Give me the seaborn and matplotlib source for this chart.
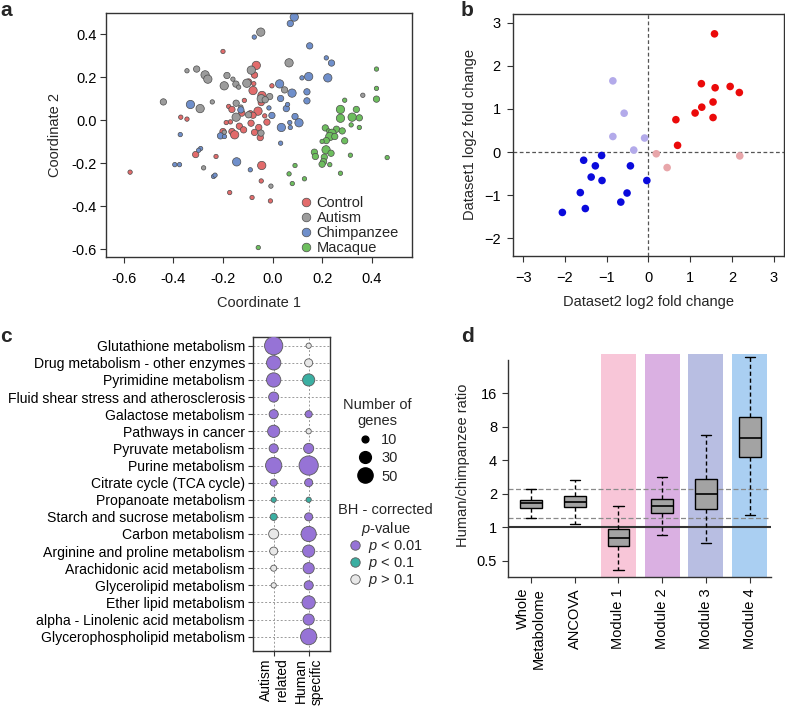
import numpy as np
import pandas as pd
import matplotlib
matplotlib.use('Agg')
import matplotlib.pyplot as plt
from matplotlib.lines import Line2D
from matplotlib.ticker import NullLocator, FormatStrFormatter
import seaborn as sns

# ---------------- Panel a data (MDS coordinates) ----------------
a_groups = ['Control', 'Autism', 'Chimpanzee', 'Macaque']
ctrl_x = [-0.20, -0.066, -0.073, -0.097, -0.079, -0.076, -0.043, -0.003, -0.046, -0.114, -0.177, -0.164, -0.124,
          -0.09, -0.059, -0.079, -0.032, -0.187, -0.17, -0.20, -0.164, -0.153, -0.134, -0.117, -0.087, -0.056,
          -0.023, -0.073, -0.05, -0.37, -0.345, -0.31, -0.228, -0.044, -0.173, -0.083, -0.009, -0.046, -0.574]
ctrl_y = [0.32, 0.255, 0.21, 0.178, 0.138, 0.17, 0.115, 0.16, 0.082, 0.092, 0.064, 0.05, 0.033,
          0.03, 0.042, 0.023, 0.02, -0.011, -0.008, -0.053, -0.053, -0.068, -0.028, -0.045, -0.014, -0.034,
          -0.009, -0.057, -0.081, 0.014, 0.005, -0.16, -0.169, -0.211, -0.337, -0.36, -0.376, -0.283, -0.242]
ctrl_w = [1, 3, 2, 2, 3, 1, 3, 1, 2, 1, 1, 2, 2, 2, 3, 2, 1, 1, 1, 2, 2, 3, 2, 2, 2, 2, 2, 2, 2, 1, 1, 2, 1, 3,
          1, 1, 1, 1, 1]
aut_x = [-0.048, 0.066, -0.345, -0.306, -0.272, -0.261, -0.184, -0.16, -0.195, -0.148, -0.137, -0.104, -0.086,
         -0.012, -0.046, -0.03, 0.048, -0.44, -0.292, -0.243, -0.147, -0.128, -0.147, -0.097, -0.047, -0.195,
         -0.278, -0.007, 0.363]
aut_y = [0.41, 0.267, 0.23, 0.238, 0.211, 0.191, 0.208, 0.191, 0.16, 0.168, 0.154, 0.172, 0.233,
         0.11, 0.10, 0.095, 0.141, 0.085, 0.054, 0.085, 0.079, 0.061, 0.014, 0.025, -0.06, -0.056,
         -0.222, -0.307, 0.116]
aut_w = [3, 3, 1, 2, 3, 3, 2, 1, 3, 2, 1, 3, 3, 2, 3, 2, 2, 2, 3, 1, 2, 1, 3, 2, 2, 1, 1, 1, 1]
chi_x = [0.087, 0.071, -0.074, 0.149, 0.216, 0.237, 0.118, 0.145, 0.222, 0.028, 0.078, 0.138, 0.138, 0.032,
         0.055, 0.06, -0.015, -0.003, -0.128, -0.331, 0.09, 0.106, 0.035, 0.069, 0.071, 0.032, -0.21, -0.194,
         -0.372, -0.29, -0.298, -0.394, -0.375, -0.145, -0.238, -0.232, -0.09]
chi_y = [0.48, 0.45, 0.387, 0.346, 0.29, 0.266, 0.197, 0.203, 0.197, 0.169, 0.126, 0.132, 0.09, 0.101,
         0.054, 0.073, 0.057, 0.022, 0.048, 0.073, 0.017, -0.012, -0.034, -0.011, -0.034, -0.107, -0.073, -0.076,
         -0.067, -0.132, -0.14, -0.207, -0.207, -0.194, -0.262, -0.256, -0.231]
chi_w = [3, 2, 1, 2, 1, 2, 1, 3, 3, 3, 3, 2, 2, 2, 2, 1, 1, 2, 2, 3, 2, 3, 3, 1, 1, 1, 2, 1, 1, 1, 1, 1, 1, 3,
         1, 1, 1]
mac_x = [0.418, 0.418, 0.418, 0.29, 0.273, 0.337, 0.273, 0.32, 0.349, 0.316, 0.349, 0.212, 0.225, 0.257, 0.239,
         0.23, 0.28, 0.25, 0.216, 0.199, 0.29, 0.215, 0.168, 0.172, 0.235, 0.208, 0.205, 0.199, 0.23, 0.313,
         0.461, 0.273, 0.066, 0.079, 0.09, 0.128, -0.058]
mac_y = [0.238, 0.148, 0.098, 0.093, 0.05, 0.05, 0.009, 0.014, 0.011, -0.022, -0.034, -0.036, -0.05, -0.042,
         -0.061, -0.076, -0.05, -0.076, -0.095, -0.099, -0.096, -0.138, -0.149, -0.169, -0.154, -0.172, -0.193,
         -0.205, -0.207, -0.163, -0.174, -0.247, -0.25, -0.295, -0.211, -0.273, -0.593]
mac_w = [1, 1, 2, 1, 3, 2, 3, 3, 2, 1, 1, 2, 1, 2, 3, 3, 2, 2, 2, 1, 2, 3, 2, 2, 2, 2, 2, 2, 1, 1, 1, 1, 1, 1,
         1, 1, 1]

# ---------------- Panel b data ----------------
b_x = [1.585, 1.27, 1.60, 1.96, 2.18, 1.55, 1.28, 1.12, 1.55, 0.66, 0.70,
       0.19, 0.45, 2.19,
       -0.85, -0.58, -0.85, -0.09, -0.35,
       -1.12, -1.55, -1.27, -0.43, -1.37, -1.11, -0.036, -1.63, -0.51, -0.66, -1.51, -2.06]
b_y = [2.74, 1.585, 1.49, 1.52, 1.38, 1.16, 1.04, 0.905, 0.80, 0.75, 0.155,
       -0.04, -0.36, -0.09,
       1.65, 0.90, 0.36, 0.325, 0.046,
       -0.08, -0.19, -0.32, -0.32, -0.58, -0.66, -0.66, -0.94, -0.95, -1.16, -1.31, -1.40]
b_cls = ['up'] * 11 + ['up_ns'] * 3 + ['down_ns'] * 5 + ['down'] * 12

# ---------------- Panel c data ----------------
c_pathways = ['Glutathione metabolism', 'Drug metabolism - other enzymes', 'Pyrimidine metabolism',
              'Fluid shear stress and atherosclerosis', 'Galactose metabolism', 'Pathways in cancer',
              'Pyruvate metabolism', 'Purine metabolism', 'Citrate cycle (TCA cycle)', 'Propanoate metabolism',
              'Starch and sucrose metabolism', 'Carbon metabolism', 'Arginine and proline metabolism',
              'Arachidonic acid metabolism', 'Glycerolipid metabolism', 'Ether lipid metabolism',
              'alpha - Linolenic acid metabolism', 'Glycerophospholipid metabolism']
c_columns = ['Autism\nrelated', 'Human\nspecific']
c_autism_genes = [72, 44, 44, 22, 18, 32, 18, 57, 11, 6, 11, 22, 14, 8, 6, np.nan, np.nan, np.nan]
c_autism_p = ['p<0.01'] * 9 + ['p<0.1'] * 2 + ['p>0.1'] * 4 + [None] * 3
c_human_genes = [6, 14, 32, np.nan, 11, 6, 22, 80, 14, 6, 14, 50, 32, 27, 18, 38, 27, 57]
c_human_p = ['p>0.1', 'p>0.1', 'p<0.1', None, 'p<0.01', 'p>0.1', 'p<0.01', 'p<0.01', 'p<0.01', 'p<0.1',
             'p<0.01', 'p<0.01', 'p<0.01', 'p<0.01', 'p<0.01', 'p<0.01', 'p<0.01', 'p<0.01']
c_size_legend = [10, 30, 50]
c_p_levels = ['p<0.01', 'p<0.1', 'p>0.1']
c_p_labels = ['$p$ < 0.01', '$p$ < 0.1', '$p$ > 0.1']

# ---------------- Panel d data (human/chimpanzee ratio summaries) ----------------
d_labels = ['Whole\nMetabolome', 'ANCOVA', 'Module 1', 'Module 2', 'Module 3', 'Module 4']
d_whislo = [1.205, 1.08, 0.417, 0.86, 0.718, 1.30]
d_q1 = [1.495, 1.513, 0.681, 1.347, 1.463, 4.287]
d_med = [1.643, 1.70, 0.812, 1.557, 1.979, 6.40]
d_q3 = [1.763, 1.915, 0.959, 1.80, 2.721, 9.82]
d_whishi = [2.195, 2.667, 1.567, 2.854, 6.77, 33.99]
d_ref = [1.205, 2.195]
d_yticks = [0.5, 1, 2, 4, 8, 16]
d_yticklabels = ['0.5', '1', '2', '4', '8', '16']

# ---------------- Style ----------------
sns.set_style('ticks')
plt.rcParams['font.family'] = ['Liberation Sans', 'DejaVu Sans']
plt.rcParams['font.size'] = 10.5
plt.rcParams['mathtext.fontset'] = 'custom'
plt.rcParams['mathtext.it'] = 'Liberation Sans:italic'
plt.rcParams['mathtext.rm'] = 'Liberation Sans'
plt.rcParams['axes.edgecolor'] = '#333333'
plt.rcParams['axes.linewidth'] = 1.0
plt.rcParams['xtick.color'] = '#333333'
plt.rcParams['ytick.color'] = '#333333'
plt.rcParams['xtick.labelcolor'] = 'black'
plt.rcParams['ytick.labelcolor'] = 'black'

W, H = 785, 707
fig = plt.figure(figsize=(W / 100, H / 100), dpi=100)


def box(l, t, r, b):
    return [l / W, 1 - b / H, (r - l) / W, (b - t) / H]


def ticks(ax, xpad=6.5, ypad=2.5, length=4.2):
    ax.tick_params(axis='both', length=length, width=0.8, labelsize=10.5)
    ax.tick_params(axis='x', pad=xpad)
    ax.tick_params(axis='y', pad=ypad)

# ---------------- Panel a ----------------
axA = fig.add_axes(box(106, 13, 412, 257))
dfA = pd.DataFrame({
    'x': ctrl_x + aut_x + chi_x + mac_x,
    'y': ctrl_y + aut_y + chi_y + mac_y,
    'w': ctrl_w + aut_w + chi_w + mac_w,
    'group': ['Control'] * len(ctrl_x) + ['Autism'] * len(aut_x) + ['Chimpanzee'] * len(chi_x)
             + ['Macaque'] * len(mac_x),
})
pal_a = {'Control': '#E26B6B', 'Autism': '#9C9C9C', 'Chimpanzee': '#6F8FCB', 'Macaque': '#6DBE5E'}
sns.scatterplot(data=dfA, x='x', y='y', hue='group', hue_order=a_groups, palette=pal_a,
                size='w', sizes={1: 10, 2: 21, 3: 36}, edgecolor='#4d4d4d', linewidth=0.5,
                legend=False, ax=axA)
axA.set_xlim(-0.671, 0.561)
axA.set_ylim(-0.637, 0.499)
axA.set_xticks([-0.6, -0.4, -0.2, 0.0, 0.2, 0.4])
axA.set_yticks([-0.6, -0.4, -0.2, 0.0, 0.2, 0.4])
axA.xaxis.set_major_formatter(FormatStrFormatter('%.1f'))
axA.yaxis.set_major_formatter(FormatStrFormatter('%.1f'))
ticks(axA)
axA.set_xlabel('Coordinate 1', fontsize=10.5, labelpad=7)
axA.set_ylabel('Coordinate 2', fontsize=10.5, labelpad=7)
hA = [Line2D([], [], marker='o', ls='', markersize=6.2, markerfacecolor=pal_a[g],
             markeredgecolor='#4d4d4d', markeredgewidth=0.5) for g in a_groups]
axA.legend(hA, a_groups, loc='lower right', bbox_to_anchor=(0.99, -0.035), frameon=False,
           handletextpad=0.3, labelspacing=0.08, handlelength=0.8, borderpad=0.2, fontsize=10.5)

# ---------------- Panel b ----------------
axB = fig.add_axes(box(512.7, 14, 784, 256))
dfB = pd.DataFrame({'x': b_x, 'y': b_y, 'cls': b_cls})
pal_b = {'up': '#EB0A0A', 'up_ns': '#E8A6AA', 'down_ns': '#B3AAEA', 'down': '#0A0ADC'}
axB.axhline(0, color='#555555', ls=(0, (3, 2)), lw=0.9, zorder=1)
axB.axvline(0, color='#555555', ls=(0, (3, 2)), lw=0.9, zorder=1)
sns.scatterplot(data=dfB, x='x', y='y', hue='cls', palette=pal_b, s=30, linewidth=0,
                legend=False, ax=axB, zorder=3)
axB.set_xlim(-3.25, 3.25)
axB.set_ylim(-2.41, 3.2)
axB.set_xticks([-3, -2, -1, 0, 1, 2, 3])
axB.set_yticks([-2, -1, 0, 1, 2, 3])
ticks(axB, ypad=4.5)
axB.set_xlabel('Dataset2 log2 fold change', fontsize=10.5, labelpad=7)
axB.set_ylabel('Dataset1 log2 fold change', fontsize=10.5, labelpad=5)

# ---------------- Panel c ----------------
axC = fig.add_axes(box(253.3, 337, 330, 650.7))
rows = list(range(len(c_pathways)))
dfC = pd.DataFrame({
    'col': [0] * len(rows) + [1] * len(rows),
    'row': rows + rows,
    'genes': c_autism_genes + c_human_genes,
    'p': c_autism_p + c_human_p,
}).dropna()
pal_c = {'p<0.01': '#9673D6', 'p<0.1': '#3BAFA2', 'p>0.1': '#E8E8E8'}
K = 2.4
for r in rows:
    axC.axhline(r, color='#9a9a9a', ls=(0, (2, 2)), lw=0.7, zorder=0)
for c in [0, 1]:
    axC.axvline(c, color='#9a9a9a', ls=(0, (2, 2)), lw=0.7, zorder=0)
sns.scatterplot(data=dfC, x='col', y='row', hue='p', hue_order=c_p_levels, palette=pal_c,
                size='genes', sizes=(0, K * 100), size_norm=(0, 100), edgecolor='#5a5a5a',
                linewidth=0.6, legend=False, ax=axC, zorder=3)
axC.set_xlim(-0.583, 1.61)
axC.set_ylim(17.82, -0.51)
axC.set_yticks(rows)
axC.set_xticks([0, 1])
ticks(axC, xpad=2, ypad=2.5, length=3.5)
axC.set_yticklabels(c_pathways, fontsize=10.1)
axC.set_xticklabels(c_columns, rotation=90, va='top', ha='center', multialignment='right', fontsize=10)
axC.set_xlabel('')
axC.set_ylabel('')

hs = [Line2D([], [], marker='o', ls='', color='black', markersize=np.sqrt(K * n)) for n in c_size_legend]
leg1 = fig.legend(hs, [str(n) for n in c_size_legend], title='Number of\ngenes', loc='upper left',
                  bbox_to_anchor=(333 / W, 1 - 388 / H), frameon=False, fontsize=10.5, title_fontsize=10.5,
                  handletextpad=0.6, labelspacing=0.3, handlelength=1.0, borderpad=0.2)
leg1.get_title().set_multialignment('center')
hp = [Line2D([], [], marker='o', ls='', markersize=6.8, markerfacecolor=pal_c[p],
             markeredgecolor='#5a5a5a', markeredgewidth=0.6) for p in c_p_levels]
leg2 = fig.legend(hp, c_p_labels, title='BH - corrected\n$p$-value', loc='upper left',
                  bbox_to_anchor=(328 / W, 1 - 493 / H), frameon=False, fontsize=10.5, title_fontsize=10.5,
                  handletextpad=0.4, labelspacing=0.0, handlelength=1.0, borderpad=0.2)
leg2.get_title().set_multialignment('center')

# ---------------- Panel d ----------------
axD = fig.add_axes(box(507.7, 354, 770.7, 577.3))
axD.set_yscale('log', base=2)
band_colors = [None, None, '#F8C6D8', '#DAB0E2', '#B8BEE2', '#AACFF2']
for i, bc in enumerate(band_colors):
    if bc:
        axD.axvspan(i - 0.4, i + 0.4, color=bc, lw=0, zorder=0)
for v in d_ref:
    axD.axhline(v, color='#8a8a8a', ls=(0, (4, 2)), lw=0.9, zorder=1)
axD.axhline(1, color='#333333', lw=1.5, zorder=1.5)
stats = [dict(label=l, whislo=a, q1=b, med=c, q3=d, whishi=e, fliers=[])
         for l, a, b, c, d, e in zip(d_labels, d_whislo, d_q1, d_med, d_q3, d_whishi)]
axD.bxp(stats, positions=list(range(len(stats))), widths=0.5, patch_artist=True, showfliers=False,
        boxprops=dict(facecolor='#A3A3A3', edgecolor='black', lw=1.0),
        whiskerprops=dict(color='black', ls=(0, (3, 2)), lw=1.0),
        capprops=dict(color='black', lw=1.0), medianprops=dict(color='black', lw=1.2),
        capwidths=0.23, zorder=2)
axD.set_xlim(-0.533, 5.48)
axD.set_ylim(0.357, 36)
axD.set_yticks(d_yticks)
axD.set_yticklabels(d_yticklabels)
axD.yaxis.set_minor_locator(NullLocator())
axD.set_xticks(list(range(len(d_labels))))
axD.set_xticklabels(d_labels, rotation=90, va='top', ha='center', multialignment='right', fontsize=10.5)
ticks(axD, xpad=3.5, ypad=3.5)
axD.spines['top'].set_visible(False)
axD.spines['right'].set_visible(False)
axD.spines['left'].set_bounds(0.357, 32)
axD.set_ylabel('Human/chimpanzee ratio', fontsize=10.5, labelpad=5)

# ---------------- Panel letters ----------------
for lab, (x, y) in {'a': (6, 10), 'b': (467, 10), 'c': (6, 337), 'd': (467, 337)}.items():
    fig.text(x / W, 1 - y / H, lab, fontsize=15, fontweight='bold', ha='center', va='center')

fig.savefig('out.png', dpi=100)
